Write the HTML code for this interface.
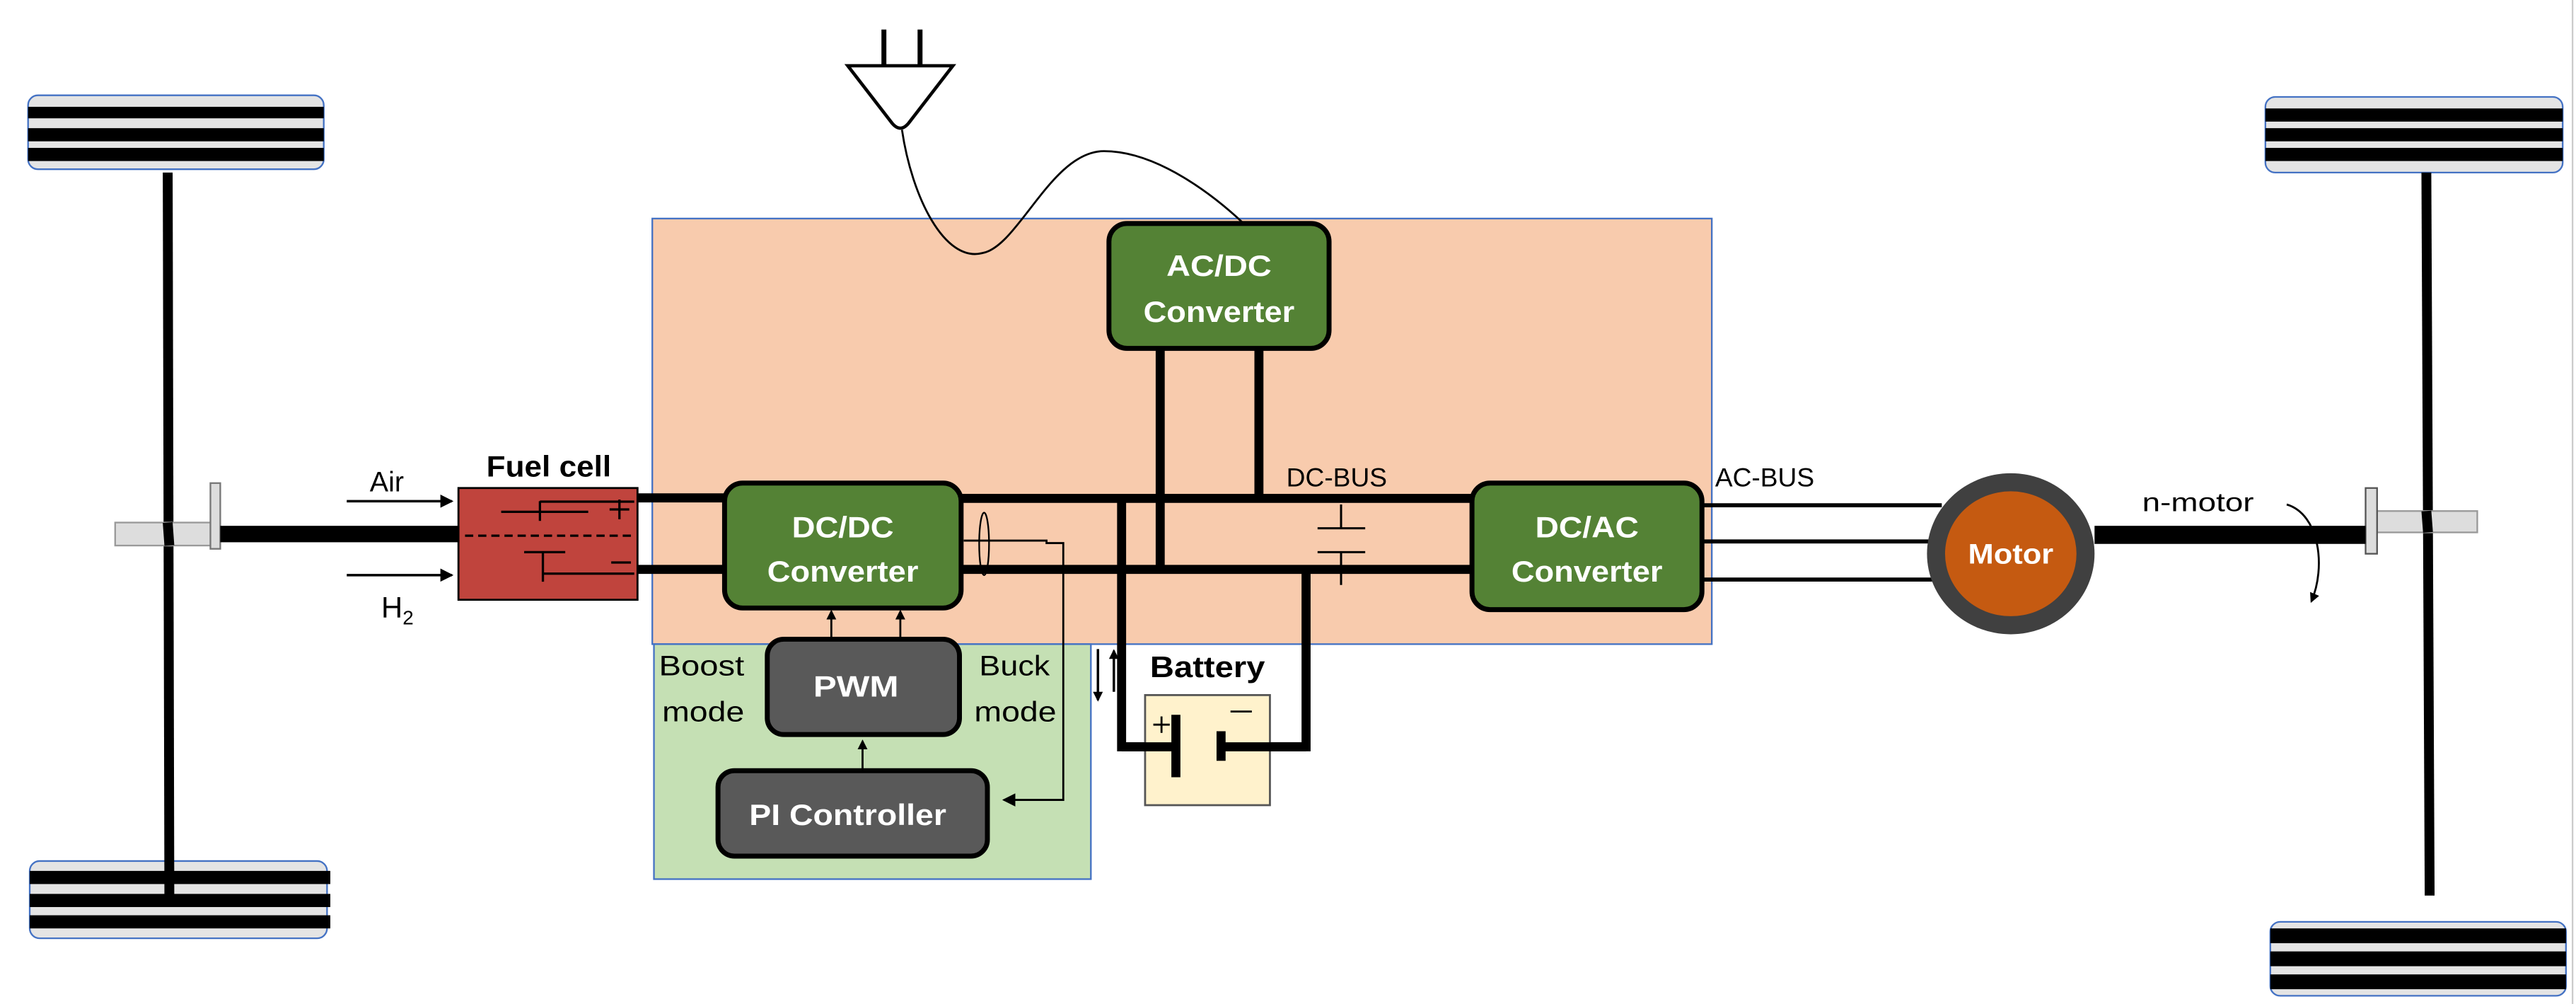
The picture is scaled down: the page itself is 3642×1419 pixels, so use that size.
<!DOCTYPE html>
<html><head><meta charset="utf-8"><style>
html,body{margin:0;padding:0;background:#fff;}
svg{display:block;}
text{font-family:"Liberation Sans",sans-serif;}
</style></head><body>
<svg width="3642" height="1419" viewBox="0 0 1568 611" xmlns="http://www.w3.org/2000/svg">
<defs>
<marker id="ah" markerWidth="8" markerHeight="8" refX="7" refY="4" orient="auto" markerUnits="userSpaceOnUse"><path d="M0,0 L8,4 L0,8 z" fill="#000"/></marker>
<marker id="ahs" markerWidth="6" markerHeight="6" refX="5" refY="3" orient="auto" markerUnits="userSpaceOnUse"><path d="M0,0 L6,3 L0,6 z" fill="#000"/></marker>
</defs>
<rect width="1568" height="611" fill="#fff"/>
<line x1="1566" y1="0" x2="1566" y2="611" stroke="#ccc" stroke-width="1"/>

<!-- Regions -->
<rect x="397" y="133" width="645" height="259" fill="#f8cbad" stroke="#4472c4" stroke-width="1"/>
<rect x="398" y="392" width="266" height="143" fill="#c5e0b4" stroke="#4472c4" stroke-width="1"/>

<!-- Left wheels -->
<rect x="17" y="58" width="180" height="45" rx="6" fill="#e4e4e4" stroke="#4472c4" stroke-width="1"/>
<rect x="17" y="65" width="180" height="7" fill="#000"/>
<rect x="17" y="78" width="180" height="8" fill="#000"/>
<rect x="17" y="90" width="180" height="8" fill="#000"/>
<rect x="18" y="524" width="181" height="47" rx="6" fill="#e4e4e4" stroke="#4472c4" stroke-width="1"/>
<rect x="18" y="530" width="183" height="8" fill="#000"/>
<rect x="18" y="544" width="183" height="8" fill="#000"/>
<rect x="18" y="557" width="183" height="8" fill="#000"/>
<line x1="102" y1="105" x2="103" y2="545" stroke="#000" stroke-width="6"/>
<rect x="70" y="318" width="60" height="14" fill="#ddd" stroke="#999" stroke-width="1"/>
<line x1="102" y1="318" x2="103" y2="332" stroke="#000" stroke-width="6"/>
<rect x="128" y="294" width="6" height="40" fill="#ddd" stroke="#777" stroke-width="1"/>
<rect x="134" y="320" width="145" height="10" fill="#000"/>

<!-- Right wheels -->
<rect x="1379" y="59" width="181" height="46" rx="6" fill="#e4e4e4" stroke="#4472c4" stroke-width="1"/>
<rect x="1379" y="66" width="181" height="8" fill="#000"/>
<rect x="1379" y="78" width="181" height="8" fill="#000"/>
<rect x="1379" y="90" width="181" height="8" fill="#000"/>
<rect x="1382" y="561" width="180" height="45" rx="6" fill="#e4e4e4" stroke="#4472c4" stroke-width="1"/>
<rect x="1382" y="565" width="180" height="9" fill="#000"/>
<rect x="1382" y="579" width="180" height="9" fill="#000"/>
<rect x="1382" y="593" width="180" height="9" fill="#000"/>
<line x1="1477" y1="105" x2="1479" y2="545" stroke="#000" stroke-width="6"/>
<rect x="1447" y="311" width="61" height="13" fill="#ddd" stroke="#999" stroke-width="1"/>
<line x1="1477" y1="311" x2="1478" y2="324" stroke="#000" stroke-width="6"/>
<rect x="1440" y="297" width="7" height="40" fill="#ddd" stroke="#555" stroke-width="1"/>
<rect x="1275" y="320" width="165" height="11" fill="#000"/>

<!-- Plug -->
<line x1="538" y1="18" x2="538" y2="40" stroke="#000" stroke-width="3"/>
<line x1="560" y1="18" x2="560" y2="40" stroke="#000" stroke-width="3"/>
<path d="M516,40 L580,40 L553,75 Q548,81 543,75 Z" fill="#fff" stroke="#000" stroke-width="2"/>
<path d="M549,79 C555,120 575,160 598,154 C620,150 640,92 672,92 C705,92 740,120 757,136" fill="none" stroke="#000" stroke-width="1.2"/>

<!-- Air/H2 -->
<line x1="211" y1="305" x2="275" y2="305" stroke="#000" stroke-width="1.5" marker-end="url(#ah)"/>
<line x1="211" y1="350" x2="275" y2="350" stroke="#000" stroke-width="1.5" marker-end="url(#ah)"/>
<text x="225" y="299" font-size="17" fill="#000">Air</text>
<text x="232" y="376" font-size="18" font-family="Liberation Serif,serif" fill="#000">H<tspan font-size="12" dy="4">2</tspan></text>
<text x="296" y="290" font-size="18" font-weight="bold" fill="#000" textLength="76" lengthAdjust="spacingAndGlyphs">Fuel cell</text>

<!-- Fuel cell -->
<rect x="279" y="297" width="109" height="68" fill="#c0443d" stroke="#000" stroke-width="1.2"/>
<g stroke="#000" stroke-width="1.4" fill="none">
<line x1="305" y1="311.5" x2="358" y2="311.5"/>
<line x1="328.6" y1="305" x2="328.6" y2="317"/>
<line x1="328.6" y1="305.3" x2="386" y2="305.3"/>
<line x1="371" y1="310" x2="383" y2="310"/>
<line x1="377" y1="304" x2="377" y2="316"/>
<line x1="283" y1="326" x2="384" y2="326" stroke-dasharray="5,3"/>
<line x1="319" y1="336" x2="344" y2="336"/>
<line x1="330.4" y1="336" x2="330.4" y2="354"/>
<line x1="330.4" y1="349.1" x2="386" y2="349.1"/>
<line x1="372" y1="342.3" x2="384" y2="342.3"/>
</g>

<!-- Thick wires -->
<g stroke="#000" stroke-width="5.5" fill="none">
<line x1="388" y1="303" x2="452" y2="303"/>
<line x1="388" y1="346.5" x2="452" y2="346.5"/>
<line x1="585" y1="303.3" x2="905" y2="303.3"/>
<line x1="585" y1="346.5" x2="905" y2="346.5"/>
<line x1="706.2" y1="210" x2="706.2" y2="347"/>
<line x1="766.3" y1="210" x2="766.3" y2="304"/>
<polyline points="682.7,303.3 682.7,454.5 715,454.5"/>
<polyline points="743,454.5 795,454.5 795,346.5"/>
</g>

<!-- Capacitor -->
<g stroke="#000" stroke-width="1.3">
<line x1="802" y1="321.5" x2="831" y2="321.5"/>
<line x1="802" y1="336" x2="831" y2="336"/>
<line x1="816.3" y1="307" x2="816.3" y2="321.5"/>
<line x1="816.3" y1="336" x2="816.3" y2="356"/>
</g>
<text x="783" y="296" font-size="16" fill="#000">DC-BUS</text>

<!-- Current sensor -->
<ellipse cx="599" cy="331" rx="3" ry="19" fill="none" stroke="#000" stroke-width="1"/>
<polyline points="586.6,329 637,329 637,330.5 647.2,330.5 647.2,486.8 611,486.8" fill="none" stroke="#000" stroke-width="1.2" marker-end="url(#ah)"/>

<!-- DC/DC -->
<rect x="441" y="294" width="144" height="76" rx="11" fill="#548235" stroke="#000" stroke-width="3"/>
<text x="513" y="327" font-size="18" font-weight="bold" fill="#fff" text-anchor="middle" textLength="62" lengthAdjust="spacingAndGlyphs">DC/DC</text>
<text x="513" y="354" font-size="18" font-weight="bold" fill="#fff" text-anchor="middle" textLength="92" lengthAdjust="spacingAndGlyphs">Converter</text>

<!-- AC/DC -->
<rect x="675" y="136" width="134" height="76" rx="11" fill="#548235" stroke="#000" stroke-width="3"/>
<text x="742" y="168" font-size="18" font-weight="bold" fill="#fff" text-anchor="middle" textLength="64" lengthAdjust="spacingAndGlyphs">AC/DC</text>
<text x="742" y="196" font-size="18" font-weight="bold" fill="#fff" text-anchor="middle" textLength="92" lengthAdjust="spacingAndGlyphs">Converter</text>

<!-- DC/AC -->
<rect x="896" y="294" width="140" height="77" rx="11" fill="#548235" stroke="#000" stroke-width="3"/>
<text x="966" y="327" font-size="18" font-weight="bold" fill="#fff" text-anchor="middle" textLength="63" lengthAdjust="spacingAndGlyphs">DC/AC</text>
<text x="966" y="354" font-size="18" font-weight="bold" fill="#fff" text-anchor="middle" textLength="92" lengthAdjust="spacingAndGlyphs">Converter</text>

<!-- PWM & PI -->
<line x1="506" y1="388" x2="506" y2="372" stroke="#000" stroke-width="1.2" marker-end="url(#ahs)"/>
<line x1="548" y1="388" x2="548" y2="372" stroke="#000" stroke-width="1.2" marker-end="url(#ahs)"/>
<line x1="525" y1="468" x2="525" y2="451" stroke="#000" stroke-width="1.2" marker-end="url(#ahs)"/>
<rect x="467" y="389" width="117" height="58" rx="10" fill="#595959" stroke="#000" stroke-width="3"/>
<text x="521" y="424" font-size="18" font-weight="bold" fill="#fff" text-anchor="middle" textLength="52" lengthAdjust="spacingAndGlyphs">PWM</text>
<rect x="437" y="469" width="164" height="52" rx="10" fill="#595959" stroke="#000" stroke-width="3"/>
<text x="516" y="502" font-size="18" font-weight="bold" fill="#fff" text-anchor="middle" textLength="120" lengthAdjust="spacingAndGlyphs">PI Controller</text>
<text x="401" y="411" font-size="17" fill="#000" textLength="52" lengthAdjust="spacingAndGlyphs">Boost</text>
<text x="403" y="439" font-size="17" fill="#000" textLength="50" lengthAdjust="spacingAndGlyphs">mode</text>
<text x="596" y="411" font-size="17" fill="#000" textLength="43" lengthAdjust="spacingAndGlyphs">Buck</text>
<text x="593" y="439" font-size="17" fill="#000" textLength="50" lengthAdjust="spacingAndGlyphs">mode</text>

<!-- Battery -->
<line x1="668.3" y1="395" x2="668.3" y2="426" stroke="#000" stroke-width="1.5" marker-end="url(#ahs)"/>
<line x1="678" y1="421" x2="678" y2="396" stroke="#000" stroke-width="1.5" marker-end="url(#ahs)"/>
<text x="700" y="412" font-size="18" font-weight="bold" fill="#000" textLength="70" lengthAdjust="spacingAndGlyphs">Battery</text>
<rect x="697" y="423" width="76" height="67" fill="#fff2cc" stroke="#555" stroke-width="1.2"/>
<polyline points="682.7,454.5 715,454.5" stroke="#000" stroke-width="5.5"/>
<polyline points="743,454.5 795,454.5" stroke="#000" stroke-width="5.5"/>
<rect x="713" y="435" width="5.5" height="38" fill="#000"/>
<rect x="740.5" y="445" width="5.5" height="18" fill="#000"/>
<g stroke="#000" stroke-width="1.2"><line x1="702" y1="441" x2="712" y2="441"/><line x1="707" y1="436" x2="707" y2="446"/><line x1="749" y1="433" x2="762" y2="433"/></g>

<!-- AC bus -->
<g stroke="#000" stroke-width="2.5">
<line x1="1036" y1="307.5" x2="1182" y2="307.5"/>
<line x1="1036" y1="329.5" x2="1178" y2="329.5"/>
<line x1="1036" y1="352.7" x2="1182" y2="352.7"/>
</g>
<text x="1044" y="296" font-size="16" fill="#000">AC-BUS</text>

<!-- Motor -->
<ellipse cx="1224" cy="337" rx="51" ry="49" fill="#404040"/>
<ellipse cx="1224" cy="337" rx="40" ry="38" fill="#c55a11"/>
<text x="1224" y="343" font-size="17" font-weight="bold" fill="#fff" text-anchor="middle" textLength="52" lengthAdjust="spacingAndGlyphs">Motor</text>

<text x="1304" y="311" font-size="16" fill="#000" textLength="68" lengthAdjust="spacingAndGlyphs">n-motor</text>
<path d="M1392,307 C1412,313 1416,345 1407,366" fill="none" stroke="#000" stroke-width="1.2" marker-end="url(#ahs)"/>
</svg>
</body></html>
